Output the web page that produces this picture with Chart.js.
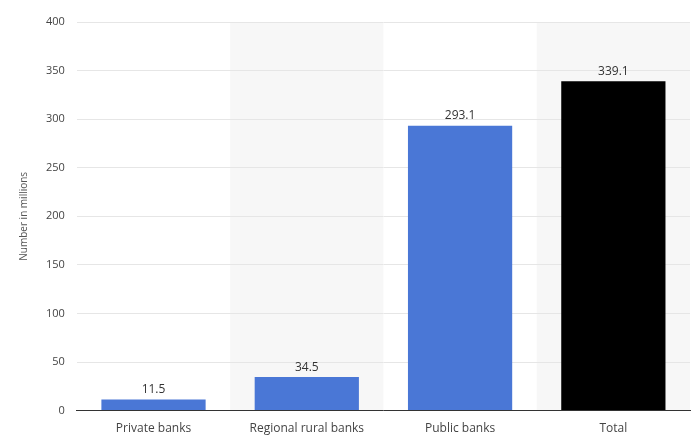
<!DOCTYPE html>
<html>
<head>
<meta charset="utf-8">
<script src="https://cdn.jsdelivr.net/npm/chart.js@4"></script>
<style>
  html, body { margin: 0; padding: 0; background: #fff; }
  #wrap { width: 700px; height: 439px; }
</style>
</head>
<body>
<div id="wrap"><canvas id="chart"></canvas></div>
<script>
const categories = ['Private banks', 'Regional rural banks', 'Public banks', 'Total'];
const values = [11.5, 34.5, 293.1, 339.1];
const barColors = ['#4a77d6', '#4a77d6', '#4a77d6', '#000000'];

// shade every other category band
const bandPlugin = {
  id: 'bands',
  beforeDraw(chart) {
    const { ctx, chartArea, scales: { x } } = chart;
    const w = (chartArea.right - chartArea.left) / categories.length;
    ctx.save();
    ctx.fillStyle = '#f7f7f7';
    categories.forEach((c, i) => {
      if (i % 2 === 1) ctx.fillRect(x.getPixelForValue(i) - w / 2, chartArea.top, w, chartArea.bottom - chartArea.top);
    });
    ctx.restore();
  }
};

// value labels above bars
const labelPlugin = {
  id: 'labels',
  afterDatasetsDraw(chart) {
    const { ctx } = chart;
    ctx.save();
    ctx.font = '12px "Open Sans", sans-serif';
    ctx.fillStyle = '#333';
    ctx.textAlign = 'center';
    ctx.textBaseline = 'bottom';
    chart.getDatasetMeta(0).data.forEach((bar, i) => {
      ctx.fillText(values[i].toFixed(1), bar.x, bar.y - 4);
    });
    ctx.restore();
  }
};

new Chart(document.getElementById('chart'), {
  type: 'bar',
  data: {
    labels: categories,
    datasets: [{ data: values, backgroundColor: barColors, categoryPercentage: 0.68, barPercentage: 1 }]
  },
  options: {
    responsive: true,
    maintainAspectRatio: false,
    animation: false,
    layout: { padding: { top: 22, right: 10, left: 14, bottom: 0 } },
    plugins: { legend: { display: false }, tooltip: { enabled: false } },
    scales: {
      x: {
        grid: { display: false },
        border: { color: '#333' },
        ticks: { color: '#444', font: { family: 'Open Sans', size: 12 } }
      },
      y: {
        min: 0, max: 400,
        ticks: { stepSize: 50, color: '#444', font: { family: 'Open Sans', size: 11 }, padding: 12 },
        grid: { color: '#e6e6e6', drawTicks: false },
        border: { display: false, dash: [] },
        title: { display: true, text: 'Number in millions', color: '#555', font: { family: 'Open Sans', size: 10 } }
      }
    }
  },
  plugins: [bandPlugin, labelPlugin]
});
</script>
</body>
</html>
